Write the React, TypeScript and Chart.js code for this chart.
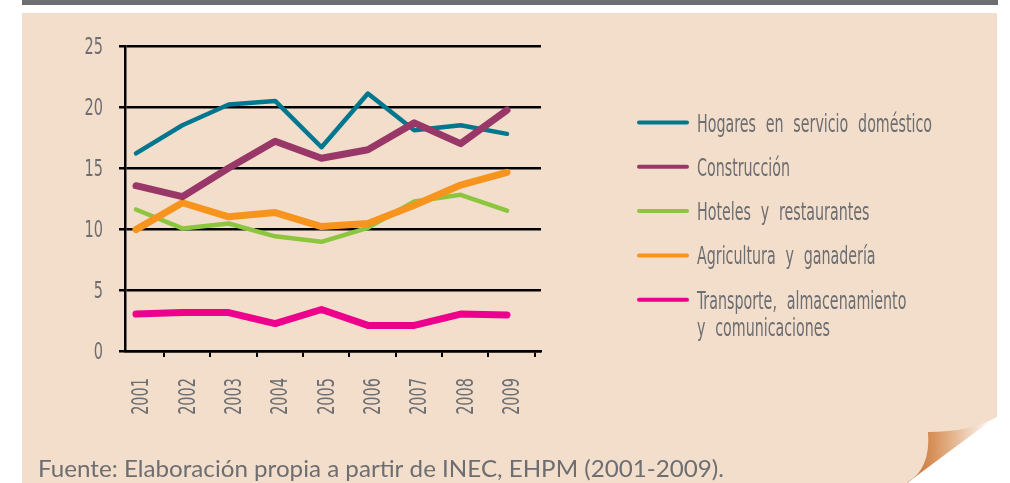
import { useEffect, useRef } from 'react';
import { Chart, registerables } from 'chart.js';

Chart.register(...registerables);

// ---------- data ----------
const years = ['2001', '2002', '2003', '2004', '2005', '2006', '2007', '2008', '2009'];
const seriesNames = [
  'Hogares en servicio doméstico',
  'Construcción',
  'Hoteles y restaurantes',
  'Agricultura y ganadería',
  'Transporte, almacenamiento\ny comunicaciones',
];
const hogares = [16.2, 18.5, 20.2, 20.5, 16.7, 21.1, 18.1, 18.5, 17.8];
const construccion = [13.55, 12.65, 15.0, 17.2, 15.8, 16.5, 18.7, 17.0, 19.75];
const hoteles = [11.6, 10.05, 10.45, 9.4, 8.95, 10.1, 12.25, 12.8, 11.5];
const agricultura = [9.95, 12.15, 11.0, 11.35, 10.2, 10.45, 11.95, 13.6, 14.65];
const transporte = [3.03, 3.15, 3.15, 2.25, 3.4, 2.1, 2.1, 3.03, 2.95];
const yTickValues = [0, 5, 10, 15, 20, 25];
const sourceNote = 'Fuente: Elaboración propia a partir de INEC, EHPM (2001-2009).';

// ---------- styles ----------
const W = 1010;
const H = 483;
const BEIGE = '#f2decb';
const TEXT = '#6d6e71';
const NARROW = "'DejaVu Sans Condensed', 'DejaVu Sans', sans-serif";
const seriesColors = ['#00778f', '#993868', '#8cc63f', '#f7941e', '#ec008c'];
const seriesWidths = [4.5, 7, 4.5, 7, 7];
const seriesOrder = [3, 1, 4, 2, 0];
const X_MIN = -0.237;
const X_MAX = 8.733;
const TICK_LEN = 6;
const LABEL_OFFSET = -24;
const TICK_FONT = 23;
const TICK_SX = 0.7;

const backgroundPlugin = {
  id: 'pageBackground',
  beforeDraw(chart: any) {
    const ctx = chart.ctx as CanvasRenderingContext2D;
    ctx.save();
    ctx.fillStyle = '#ffffff';
    ctx.fillRect(0, 0, W, H);
    // top dark band
    ctx.fillStyle = '#6d6e71';
    ctx.fillRect(22, 0, 976, 5);
    // folded corner flap
    const g = ctx.createLinearGradient(906, 0, 990, 0);
    g.addColorStop(0, '#c4692f');
    g.addColorStop(0.35, '#d9955f');
    g.addColorStop(0.75, '#efd2bb');
    g.addColorStop(1, '#fdf8f4');
    ctx.fillStyle = g;
    ctx.beginPath();
    ctx.moveTo(926, 428);
    ctx.lineTo(907, 483);
    ctx.lineTo(989, 422);
    ctx.closePath();
    ctx.fill();
    // beige panel with curled corner
    ctx.fillStyle = BEIGE;
    ctx.beginPath();
    ctx.moveTo(22, 13);
    ctx.lineTo(997, 13);
    ctx.lineTo(997, 417);
    ctx.quadraticCurveTo(970, 432, 928, 432);
    ctx.quadraticCurveTo(931, 470, 906, 483);
    ctx.lineTo(22, 483);
    ctx.closePath();
    ctx.fill();
    ctx.restore();
  },
  afterDraw(chart: any) {
    const ctx = chart.ctx as CanvasRenderingContext2D;
    ctx.save();
    ctx.fillStyle = TEXT;
    ctx.textBaseline = 'alphabetic';

    // axis tick labels (condensed), placed through the chart's scales
    const capHalf = (0.729 * TICK_FONT) / 2;
    ctx.font = `${TICK_FONT}px ${NARROW}`;
    const ys = chart.scales.y;
    ys.ticks.forEach((t: any) => {
      const py = ys.getPixelForValue(t.value);
      ctx.save();
      ctx.translate(ys.right - TICK_LEN - 16, py + capHalf);
      ctx.scale(TICK_SX, 1);
      ctx.textAlign = 'right';
      ctx.fillText(String(t.value), 0, 0);
      ctx.restore();
    });
    const xs = chart.scales.x;
    xs.ticks.forEach((_t: any, i: number) => {
      const px = xs.getPixelForTick(i) + LABEL_OFFSET;
      ctx.save();
      ctx.translate(px + capHalf, xs.top + TICK_LEN + 21);
      ctx.rotate(-Math.PI / 2);
      ctx.scale(TICK_SX, 1);
      ctx.textAlign = 'right';
      ctx.fillText(years[i], 0, 0);
      ctx.restore();
    });

    // legend
    chart.data.datasets.forEach((ds: any, i: number) => {
      const y = 122.5 + i * 44.3;
      ctx.strokeStyle = ds.borderColor;
      ctx.lineWidth = 4;
      ctx.lineCap = 'round';
      ctx.beginPath();
      ctx.moveTo(639, y);
      ctx.lineTo(687, y);
      ctx.stroke();
      const lines = String(ds.label).split('\n');
      ctx.fillStyle = TEXT;
      ctx.font = `24px ${NARROW}`;
      ctx.textAlign = 'left';
      (ctx as any).wordSpacing = '8px';
      lines.forEach((t, j) => {
        ctx.save();
        ctx.translate(697, y + 9 + j * 27);
        ctx.scale(0.66, 1);
        ctx.fillText(t, 0, 0);
        ctx.restore();
      });
      (ctx as any).wordSpacing = '0px';
    });

    // source note
    ctx.fillStyle = TEXT;
    ctx.font = "23px Lato, 'Open Sans', sans-serif";
    ctx.textAlign = 'left';
    const m = ctx.measureText(sourceNote).width;
    const sx = 686 / m;
    ctx.save();
    ctx.translate(38, 477);
    ctx.scale(sx, 1);
    ctx.fillText(sourceNote, 0, 0);
    ctx.restore();
    ctx.restore();
  },
};

export default function App() {
  const canvasRef = useRef<HTMLCanvasElement | null>(null);

  useEffect(() => {
    const canvas = canvasRef.current;
    if (!canvas) return;
    const seriesValues = [hogares, construccion, hoteles, agricultura, transporte];
    const chart = new Chart(canvas, {
      type: 'line',
      data: {
        datasets: seriesValues.map((vals, i) => ({
          label: seriesNames[i],
          data: vals.map((v, k) => ({ x: k, y: v })),
          borderColor: seriesColors[i],
          backgroundColor: seriesColors[i],
          borderWidth: seriesWidths[i],
          borderCapStyle: 'round' as const,
          borderJoinStyle: 'round' as const,
          pointRadius: 0,
          pointHoverRadius: 0,
          tension: 0,
          fill: false,
          order: seriesOrder[i],
        })),
      },
      options: {
        responsive: false,
        animation: false,
        devicePixelRatio: 1,
        events: [],
        layout: { padding: { left: 65, right: 469, top: 46, bottom: 52 } },
        plugins: {
          legend: { display: false },
          tooltip: { enabled: false },
          title: { display: false },
        },
        scales: {
          x: {
            type: 'linear',
            min: X_MIN,
            max: X_MAX,
            afterBuildTicks: (scale: any) => {
              scale.ticks = years.map((_, i) => ({ value: i + 0.6 }));
            },
            afterFit: (scale: any) => {
              scale.height = 80;
            },
            ticks: { display: false, autoSkip: false },
            grid: {
              drawOnChartArea: false,
              drawTicks: true,
              tickLength: TICK_LEN,
              color: '#000',
              lineWidth: 2,
            },
            border: { display: true, color: '#000', width: 2.5 },
          },
          y: {
            type: 'linear',
            min: 0,
            max: 25,
            afterBuildTicks: (scale: any) => {
              scale.ticks = yTickValues.map((v) => ({ value: v }));
            },
            afterFit: (scale: any) => {
              scale.width = 60;
            },
            ticks: { display: false },
            grid: {
              color: '#000',
              lineWidth: 2.5,
              drawTicks: true,
              tickLength: TICK_LEN,
            },
            border: { display: true, color: '#000', width: 2.5 },
          },
        },
      },
      plugins: [backgroundPlugin],
    });
    return () => chart.destroy();
  }, []);

  return (
    <div style={{ position: 'fixed', left: 0, top: 0, width: W, height: H, background: '#fff' }}>
      <canvas ref={canvasRef} width={W} height={H} style={{ display: 'block', width: W, height: H }} />
    </div>
  );
}
